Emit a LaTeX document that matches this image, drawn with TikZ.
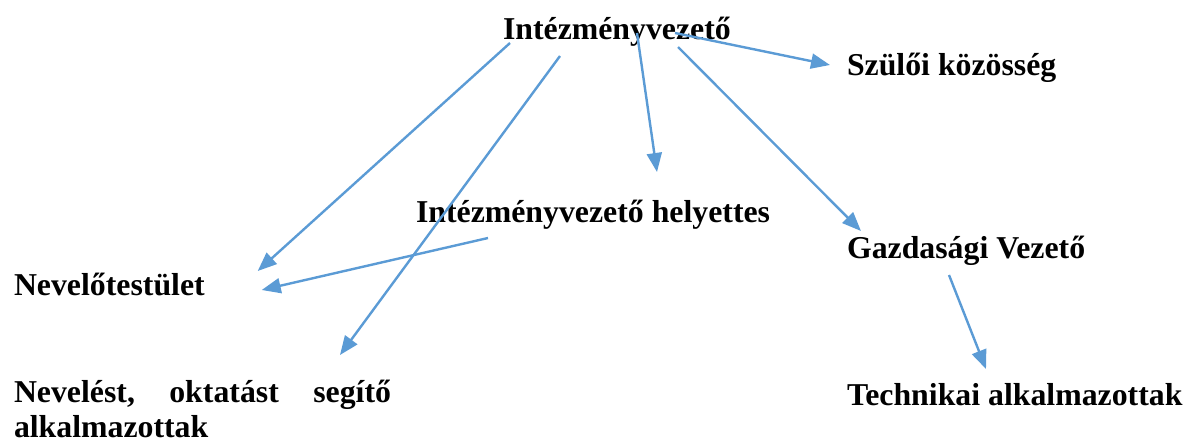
\documentclass[tikz,border=0pt]{standalone}
\usepackage{fontspec}
\setmainfont{Liberation Serif}
\usetikzlibrary{arrows.meta,calc}
\definecolor{arrblue}{HTML}{5B9BD5}
\begin{document}
\begin{tikzpicture}[x=1pt,y=-1pt,
  lbl/.style={anchor=base west,inner sep=0pt,outer sep=0pt,font=\fontsize{31.8}{34.5}\selectfont\bfseries},
  arr/.style={draw=arrblue,line width=2.4pt,-{Triangle[length=19pt,width=15pt]}}]
\useasboundingbox (0,0) rectangle (1191,444);
\node[lbl] (iv) at (503,40) {Intézményvezető};
\node[lbl] (szk) at (847,76) {Szülői közösség};
\node[lbl] (ivh) at (416,222) {Intézményvezető helyettes};
\node[lbl] (gv) at (847,258) {Gazdasági Vezető};
\node[lbl] (nt) at (14,295) {Nevelőtestület};
\node[lbl,align=left] (nos) at (14,437) {\hbox to 377pt{Nevelést,\hfill oktatást\hfill segítő}\\alkalmazottak};
\node[lbl] (ta) at (847,405) {Technikai alkalmazottak};
\draw[arr] ($(iv.base west)+(7,3)$) -- ($(nt.base east)+(53,-24)$);
\draw[arr] ($(iv.base west)+(57,16)$) -- ($(nos.base west)+(326,-82)$);
\draw[arr] ($(iv.base west)+(134,-7)$) -- ($(ivh.base west)+(241,-50)$);
\draw[arr] ($(iv.base west)+(172,-7)$) -- ($(szk.base west)+(-17,-11)$);
\draw[arr] ($(iv.base west)+(175,7)$) -- ($(gv.base west)+(14,-27)$);
\draw[arr] ($(ivh.base west)+(72,16)$) -- ($(nt.base east)+(57,-5)$);
\draw[arr] ($(gv.base west)+(102,17)$) -- ($(ta.base west)+(139,-36)$);
\end{tikzpicture}
\end{document}
